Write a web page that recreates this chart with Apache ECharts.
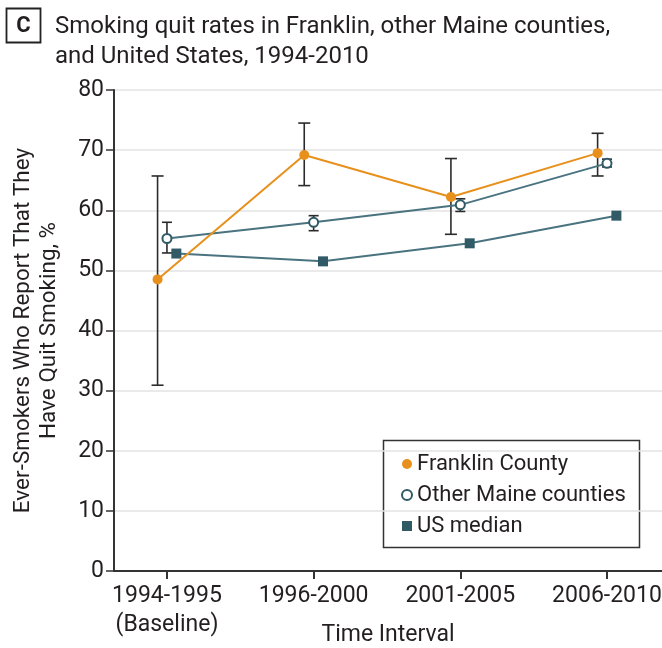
<!DOCTYPE html>
<html>
<head>
<meta charset="utf-8">
<script src="https://cdn.jsdelivr.net/npm/echarts@6/dist/echarts.min.js"></script>
<style>
  html, body { margin: 0; padding: 0; background: #fff; }
  #chart { width: 662px; height: 648px; }
</style>
</head>
<body>
<div id="chart"></div>
<script>
// Time intervals (x categories)
const periods = ['1994-1995\n(Baseline)', '1996-2000', '2001-2005', '2006-2010'];
const yTicks = [0, 10, 20, 30, 40, 50, 60, 70, 80];

// Quit rates, % of ever-smokers
const franklin = [48.5, 69.2, 62.2, 69.5];
const franklinLow = [30.9, 64.1, 56.0, 65.7];
const franklinHigh = [65.7, 74.5, 68.6, 72.8];

const maine = [55.3, 58.0, 60.9, 67.8];
const maineLow = [52.9, 56.6, 59.8, 67.2];
const maineHigh = [58.0, 59.1, 61.9, 68.5];

const usMedian = [52.8, 51.5, 54.5, 59.1];

// Small horizontal dodge so the three series don't overlap at each interval
const DODGE = 0.064;
const ORANGE = '#e8901c';
const TEAL = '#2f5a66';
const SLATE = '#4a7380';
const INK = '#231f20';
const FONT = 'Roboto';

const pts = (vals, dx) => vals.map((v, i) => [i + dx, v]);
const bars = (lo, hi, dx) => lo.map((l, i) => [i + dx, l, hi[i]]);

function errorBar(capHalf) {
  return function (params, api) {
    const x = api.value(0);
    const lo = api.coord([x, api.value(1)]);
    const hi = api.coord([x, api.value(2)]);
    const style = { stroke: '#2b2b2b', lineWidth: 1.6 };
    return {
      type: 'group',
      children: [
        { type: 'line', shape: { x1: lo[0], y1: lo[1], x2: hi[0], y2: hi[1] }, style },
        { type: 'line', shape: { x1: hi[0] - capHalf, y1: hi[1], x2: hi[0] + capHalf, y2: hi[1] }, style },
        { type: 'line', shape: { x1: lo[0] - capHalf, y1: lo[1], x2: lo[0] + capHalf, y2: lo[1] }, style }
      ]
    };
  };
}

const chart = echarts.init(document.getElementById('chart'), null, { renderer: 'canvas' });

chart.setOption({
  animation: false,
  backgroundColor: '#fff',
  textStyle: { fontFamily: FONT },
  title: {
    text: 'Smoking quit rates in Franklin, other Maine counties,\nand United States, 1994-2010',
    left: 50,
    top: 7,
    textStyle: { fontFamily: FONT, fontSize: 24, fontWeight: 'normal', color: INK, lineHeight: 30 }
  },
  graphic: [
    {
      type: 'rect',
      shape: { x: 6.5, y: 8.5, width: 34, height: 34 },
      style: { fill: '#fff', stroke: '#222', lineWidth: 1.8 }
    },
    {
      type: 'text',
      x: 23.5, y: 26,
      style: { text: 'C', fontFamily: FONT, fontSize: 22, fontWeight: 'bold', fill: INK, align: 'center', verticalAlign: 'middle' }
    },
    {
      type: 'rect',
      z: 0,
      shape: { x: 383.5, y: 440.5, width: 256, height: 107 },
      style: { fill: '#fff', stroke: '#333', lineWidth: 1.5 }
    }
  ],
  grid: { left: 114, right: 0, top: 90, bottom: 77, outerBoundsMode: 'none', containLabel: false },
  legend: {
    orient: 'vertical',
    left: 396,
    top: 447,
    itemWidth: 10,
    itemHeight: 10,
    itemGap: 7,
    z: 10,
    textStyle: { fontFamily: FONT, fontSize: 22, color: INK, lineHeight: 24 },
    data: [
      { name: 'Franklin County', icon: 'circle', itemStyle: { color: ORANGE } },
      { name: 'Other Maine counties', icon: 'circle', itemStyle: { color: '#fff', borderColor: TEAL, borderWidth: 2 } },
      { name: 'US median', icon: 'rect', itemStyle: { color: TEAL } }
    ]
  },
  xAxis: {
    type: 'value',
    min: -0.361,
    max: 3.375,
    name: 'Time Interval',
    nameLocation: 'middle',
    nameGap: 53,
    nameMoveOverlap: false,
    nameTextStyle: { fontFamily: FONT, fontSize: 23, color: INK },
    splitLine: { show: false },
    axisLine: { onZero: false, lineStyle: { color: '#333', width: 2 } },
    axisTick: { show: true, length: 8, customValues: [0, 1, 2, 3], lineStyle: { color: '#333', width: 2 } },
    axisLabel: {
      customValues: [0, 1, 2, 3],
      formatter: v => periods[Math.round(v)],
      margin: 11,
      fontFamily: FONT, fontSize: 23, color: INK, lineHeight: 29
    }
  },
  yAxis: {
    type: 'value',
    min: yTicks[0],
    max: yTicks[yTicks.length - 1],
    interval: 10,
    name: 'Ever-Smokers Who Report That They\nHave Quit Smoking, %',
    nameLocation: 'middle',
    nameRotate: 90,
    nameGap: 52,
    nameMoveOverlap: false,
    nameTextStyle: { fontFamily: FONT, fontSize: 22.5, color: INK, lineHeight: 26 },
    axisLine: { show: true, onZero: false, lineStyle: { color: '#333', width: 2 } },
    axisTick: { show: true, length: 8, lineStyle: { color: '#333', width: 1.5 } },
    axisLabel: { margin: 10, fontFamily: FONT, fontSize: 23, color: INK },
    splitLine: { show: true, lineStyle: { color: '#e3e3e3', width: 1.5 } }
  },
  series: [
    {
      name: 'Franklin errors',
      type: 'custom',
      renderItem: errorBar(6),
      data: bars(franklinLow, franklinHigh, -DODGE),
      z: 2,
      silent: true
    },
    {
      name: 'Maine errors',
      type: 'custom',
      renderItem: errorBar(5),
      data: bars(maineLow, maineHigh, 0),
      z: 2,
      silent: true
    },
    {
      name: 'US median',
      type: 'line',
      data: pts(usMedian, DODGE),
      symbol: 'rect',
      symbolSize: 10,
      lineStyle: { color: SLATE, width: 2 },
      itemStyle: { color: TEAL },
      z: 3
    },
    {
      name: 'Other Maine counties',
      type: 'line',
      data: pts(maine, 0),
      symbol: 'circle',
      symbolSize: 9,
      lineStyle: { color: SLATE, width: 2 },
      itemStyle: { color: '#fff', borderColor: TEAL, borderWidth: 2 },
      z: 4
    },
    {
      name: 'Franklin County',
      type: 'line',
      data: pts(franklin, -DODGE),
      symbol: 'circle',
      symbolSize: 10,
      lineStyle: { color: ORANGE, width: 2 },
      itemStyle: { color: ORANGE },
      z: 5
    }
  ]
});
</script>
</body>
</html>
